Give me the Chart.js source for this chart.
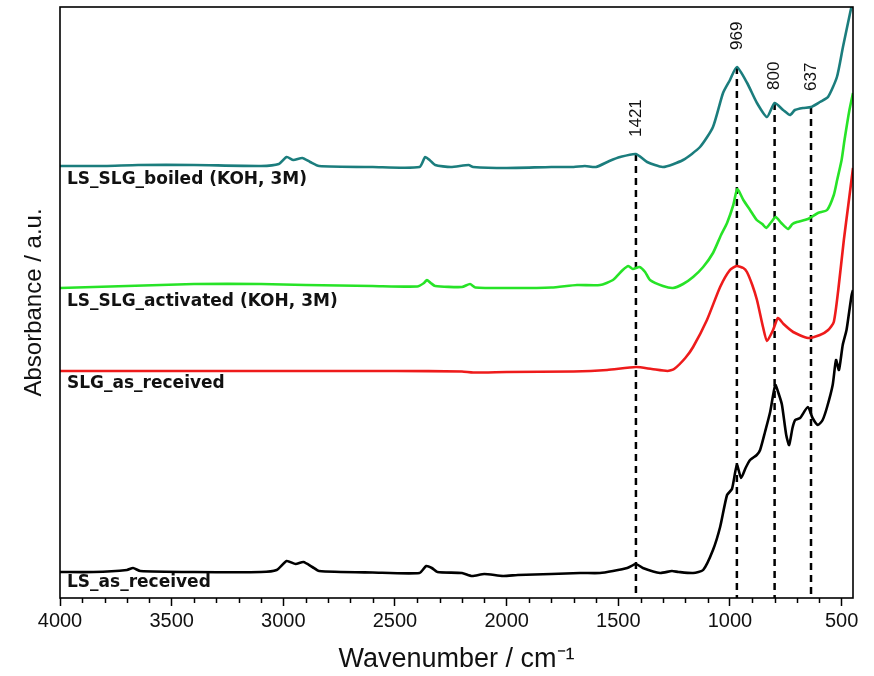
<!DOCTYPE html>
<html>
<head>
<meta charset="utf-8">
<script src="https://cdn.jsdelivr.net/npm/chart.js@4.4.1/dist/chart.umd.min.js"></script>
<style>
  body { margin: 0; background: #fff; }
  canvas { display: block; }
</style>
</head>
<body>
<canvas id="ftirChart" width="874" height="676"></canvas>
<script>
"use strict";

// wavenumber (cm-1) / absorbance (a.u., stacked offsets)
var boiledWn = [4000, 3800, 3650, 3400, 3100, 3020, 2985, 2955, 2915, 2880, 2840, 2600, 2390, 2365, 2345, 2320, 2250, 2170, 2150, 2000, 1800, 1700, 1650, 1600, 1540, 1492, 1421, 1371, 1300, 1210, 1134, 1076, 1031, 1000, 969, 923, 879, 834, 800, 762, 731, 709, 673, 637, 597, 561, 521, 494, 462, 449];
var boiledAbs = [4.32, 4.32, 4.33, 4.33, 4.32, 4.34, 4.41, 4.38, 4.40, 4.36, 4.32, 4.31, 4.31, 4.41, 4.38, 4.33, 4.31, 4.33, 4.31, 4.30, 4.31, 4.31, 4.32, 4.31, 4.37, 4.41, 4.44, 4.36, 4.31, 4.38, 4.51, 4.71, 5.05, 5.18, 5.31, 5.15, 4.95, 4.81, 4.95, 4.88, 4.83, 4.88, 4.90, 4.91, 4.96, 5.01, 5.21, 5.51, 5.85, 5.98];

var activatedWn = [4000, 3700, 3400, 3100, 2900, 2600, 2400, 2370, 2357, 2340, 2320, 2200, 2164, 2140, 1971, 1800, 1685, 1582, 1524, 1480, 1455, 1435, 1405, 1380, 1358, 1300, 1255, 1210, 1165, 1120, 1076, 1040, 1013, 985, 967, 940, 910, 880, 855, 838, 815, 795, 770, 740, 720, 700, 651, 606, 565, 535, 520, 500, 487, 465, 449];
var activatedAbs = [3.10, 3.12, 3.14, 3.14, 3.13, 3.12, 3.115, 3.15, 3.18, 3.15, 3.12, 3.11, 3.14, 3.105, 3.10, 3.105, 3.13, 3.13, 3.18, 3.28, 3.32, 3.29, 3.31, 3.26, 3.18, 3.12, 3.10, 3.14, 3.21, 3.31, 3.45, 3.63, 3.75, 3.93, 4.09, 3.98, 3.88, 3.78, 3.74, 3.70, 3.76, 3.81, 3.75, 3.69, 3.74, 3.76, 3.79, 3.85, 3.88, 4.03, 4.18, 4.38, 4.58, 4.88, 5.05];

var slgWn = [4000, 3500, 3000, 2500, 2200, 2150, 2000, 1700, 1550, 1421, 1350, 1280, 1250, 1200, 1165, 1103, 1044, 1000, 970, 940, 924, 900, 879, 852, 834, 807, 785, 760, 717, 651, 597, 560, 535, 515, 490, 470, 449];
var slgAbs = [2.27, 2.27, 2.27, 2.27, 2.265, 2.255, 2.26, 2.265, 2.28, 2.31, 2.29, 2.27, 2.29, 2.40, 2.51, 2.78, 3.11, 3.28, 3.32, 3.30, 3.26, 3.13, 2.98, 2.71, 2.57, 2.68, 2.80, 2.74, 2.66, 2.60, 2.63, 2.68, 2.76, 3.08, 3.58, 3.93, 4.30];

var lsWn = [4000, 3850, 3700, 3673, 3640, 3400, 3100, 3030, 2985, 2945, 2910, 2870, 2840, 2600, 2390, 2360, 2335, 2310, 2200, 2155, 2100, 2016, 1950, 1800, 1671, 1582, 1524, 1460, 1421, 1390, 1313, 1260, 1230, 1165, 1120, 1076, 1044, 1013, 991, 969, 950, 930, 910, 880, 865, 843, 820, 797, 780, 767, 748, 735, 720, 708, 686, 651, 630, 606, 585, 565, 540, 525, 512, 495, 478, 465, 455, 449];
var lsAbs = [0.26, 0.26, 0.28, 0.30, 0.27, 0.26, 0.26, 0.28, 0.37, 0.34, 0.36, 0.31, 0.27, 0.255, 0.25, 0.32, 0.30, 0.26, 0.25, 0.22, 0.24, 0.22, 0.23, 0.24, 0.25, 0.25, 0.27, 0.30, 0.34, 0.30, 0.25, 0.27, 0.26, 0.25, 0.28, 0.48, 0.71, 1.03, 1.09, 1.33, 1.20, 1.30, 1.38, 1.43, 1.48, 1.66, 1.86, 2.13, 2.03, 1.93, 1.63, 1.53, 1.70, 1.78, 1.80, 1.91, 1.80, 1.73, 1.78, 1.91, 2.13, 2.38, 2.28, 2.53, 2.68, 2.88, 3.03, 3.08];

var seriesNames = ["LS_SLG_boiled (KOH, 3M)", "LS_SLG_activated (KOH, 3M)", "SLG_as_received", "LS_as_received"];

// marked bands: wavenumber and the absorbance where the dashed guide starts
var peakWn = [1421, 969, 800, 637];
var peakTop = [4.44, 5.31, 4.95, 4.91];

var xMajorTicks = [4000, 3500, 3000, 2500, 2000, 1500, 1000, 500];

var FONT = "'Liberation Sans', Arial, Helvetica, sans-serif";

function toPoints(xs, ys) {
    var pts = [];
    for (var i = 0; i < xs.length; i++) {
        pts.push({ x: xs[i], y: ys[i] });
    }
    return pts;
}

var datasets = [
    { label: seriesNames[0], data: toPoints(boiledWn, boiledAbs), borderColor: "#1b7d7d" },
    { label: seriesNames[1], data: toPoints(activatedWn, activatedAbs), borderColor: "#27e327" },
    { label: seriesNames[2], data: toPoints(slgWn, slgAbs), borderColor: "#ee1b1b" },
    { label: seriesNames[3], data: toPoints(lsWn, lsAbs), borderColor: "#000000" }
].map(function (d) {
    d.borderWidth = 2.6;
    d.pointRadius = 0;
    d.tension = 0.2;
    d.fill = false;
    return d;
});

peakWn.forEach(function (wn, i) {
    datasets.push({
        label: "peak " + wn,
        data: [{ x: wn, y: peakTop[i] }, { x: wn, y: 0 }],
        borderColor: "#000",
        borderWidth: 2.5,
        borderDash: [7, 5],
        pointRadius: 0,
        tension: 0
    });
});

// frame, minor ticks and in-plot texts
var decorations = {
    id: "decorations",
    afterDraw: function (chart) {
        var ctx = chart.ctx;
        var area = chart.chartArea;
        var xs = chart.scales.x;
        var ys = chart.scales.y;

        ctx.save();
        ctx.strokeStyle = "#000";
        ctx.lineWidth = 1.6;
        ctx.strokeRect(area.left, area.top, area.right - area.left, area.bottom - area.top);

        // minor ticks every 100 cm-1
        ctx.lineWidth = 1.5;
        for (var v = 600; v < 4000; v += 100) {
            if (v % 500 === 0) continue;
            var px = Math.round(xs.getPixelForValue(v)) + 0.5;
            ctx.beginPath();
            ctx.moveTo(px, area.bottom);
            ctx.lineTo(px, area.bottom + 5);
            ctx.stroke();
        }

        // band labels, rotated above each dashed guide
        ctx.fillStyle = "#111";
        ctx.font = "17px " + FONT;
        ctx.textAlign = "left";
        ctx.textBaseline = "middle";
        var gaps = [17, 17, 13, 16];
        peakWn.forEach(function (wn, i) {
            var px = xs.getPixelForValue(wn);
            var py = ys.getPixelForValue(peakTop[i]) - gaps[i];
            ctx.save();
            ctx.translate(px, py);
            ctx.rotate(-Math.PI / 2);
            ctx.fillText(String(wn), 0, 0);
            ctx.restore();
        });

        // curve names under the left end of each trace
        var nameY = [4.18, 2.96, 2.14, 0.15];
        ctx.font = "bold 17px 'DejaVu Sans', Verdana, sans-serif";
        ctx.fillStyle = "#111";
        seriesNames.forEach(function (name, i) {
            ctx.fillText(name, area.left + 7, ys.getPixelForValue(nameY[i]));
        });
        ctx.restore();
    }
};

var ctx = document.getElementById("ftirChart").getContext("2d");
var ftirChart = new Chart(ctx, {
    type: "line",
    data: { datasets: datasets },
    options: {
        responsive: false,
        animation: false,
        layout: { padding: { top: 7, right: 21, left: 0, bottom: 0 } },
        plugins: {
            legend: { display: false },
            tooltip: { enabled: false }
        },
        scales: {
            x: {
                type: "linear",
                reverse: true,
                min: 449,
                max: 4000,
                afterFit: function (scale) { scale.height = 78; },
                afterBuildTicks: function (scale) {
                    scale.ticks = xMajorTicks.map(function (v) { return { value: v }; });
                },
                ticks: {
                    color: "#111",
                    font: { family: FONT, size: 20 },
                    padding: 3,
                    maxRotation: 0,
                    autoSkip: false,
                    callback: function (value) { return String(value); }
                },
                grid: {
                    display: true,
                    drawOnChartArea: false,
                    drawTicks: true,
                    tickLength: 8,
                    tickWidth: 1.5,
                    tickColor: "#000"
                },
                border: { display: false },
                title: {
                    display: true,
                    text: "Wavenumber / cm\u207B\u00B9",
                    color: "#111",
                    font: { family: FONT, size: 27 },
                    padding: { top: 0, bottom: 0 }
                }
            },
            y: {
                min: 0,
                max: 5.91,
                afterFit: function (scale) { scale.width = 60; },
                ticks: { display: false },
                grid: { display: false },
                border: { display: false },
                title: {
                    display: true,
                    text: "Absorbance / a.u.",
                    color: "#111",
                    font: { family: FONT, size: 24 },
                    padding: { top: 20, bottom: 0 }
                }
            }
        }
    },
    plugins: [decorations]
});
</script>
</body>
</html>
